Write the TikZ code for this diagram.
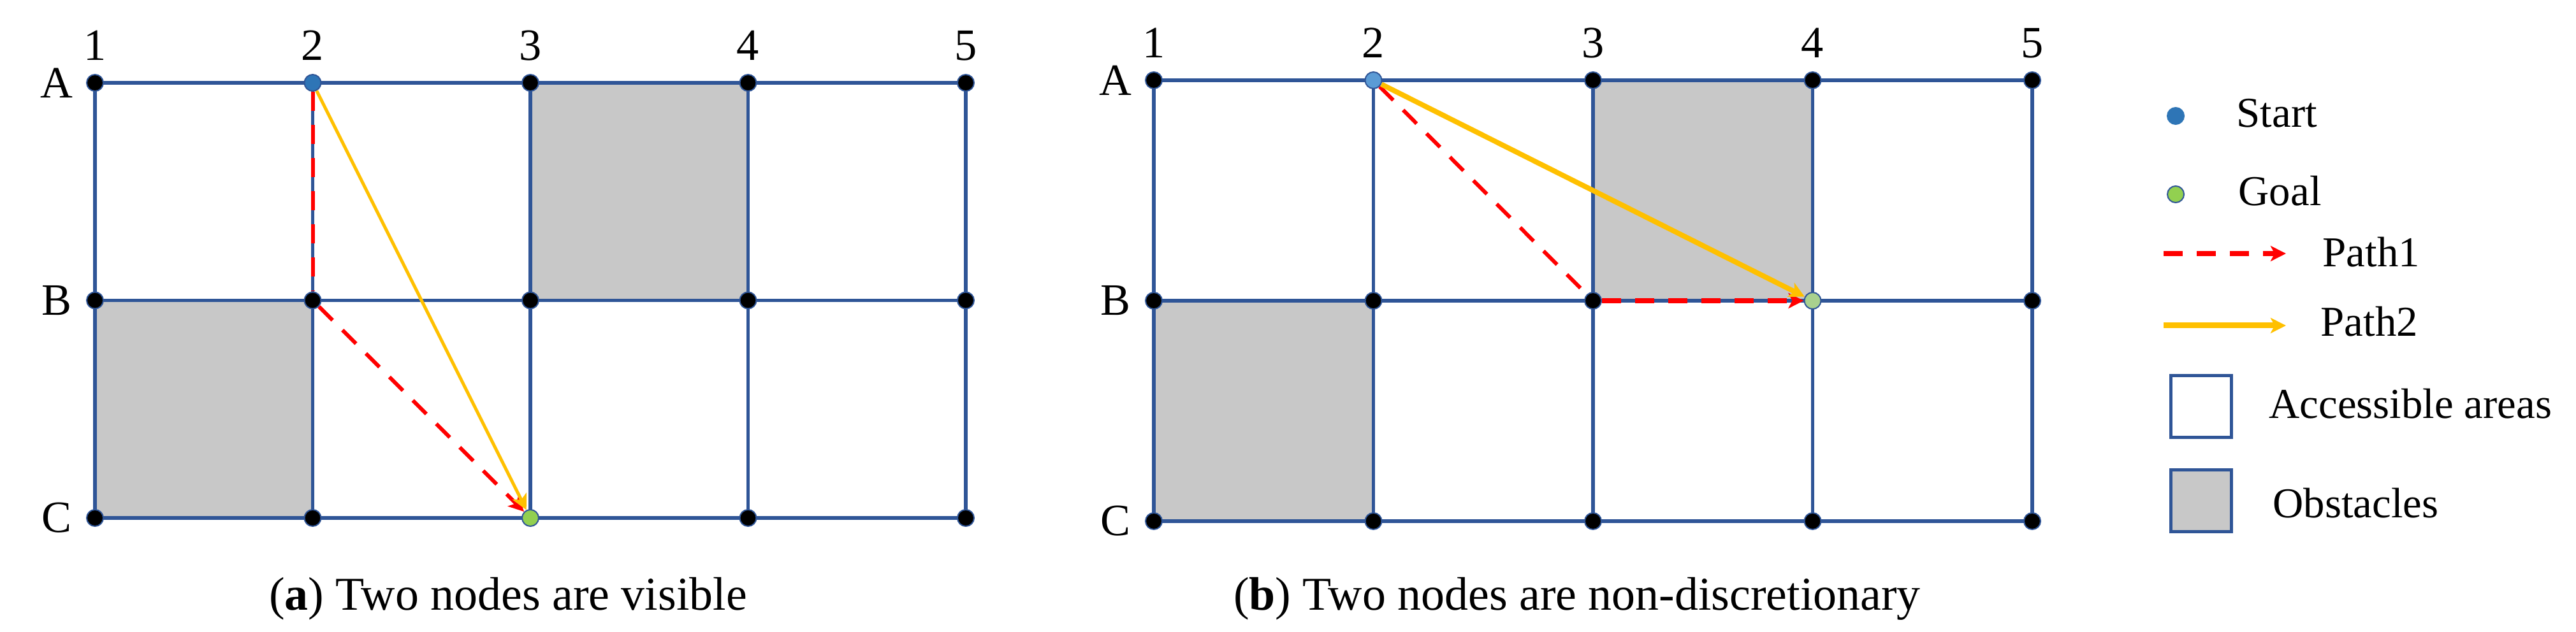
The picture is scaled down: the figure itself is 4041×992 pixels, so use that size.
\documentclass[tikz,border=0pt]{standalone}
\usepackage{fontspec}
\setmainfont{Liberation Serif}
\usetikzlibrary{arrows.meta,backgrounds}

\definecolor{gridblue}{HTML}{2F5597}
\definecolor{obstgray}{HTML}{C8C8C8}
\definecolor{startblue}{HTML}{2E75B6}
\definecolor{startlight}{HTML}{5B9BD5}
\definecolor{goalgreen}{HTML}{92D050}
\definecolor{goallight}{HTML}{A9D18E}
\definecolor{pathred}{HTML}{FF0000}
\definecolor{pathyellow}{HTML}{FFC000}

\tikzset{
  gridpt/.style={circle, fill=black, draw=gridblue, line width=0.02cm, inner sep=0pt, minimum size=0.26cm},
  startpt/.style={fill=startblue},
  goalpt/.style={fill=goalgreen},
  pt a-A2/.style={startpt}, pt a-C3/.style={goalpt},
  pt b-A2/.style={fill=startlight}, pt b-B4/.style={fill=goallight},
  gridline/.style={draw=gridblue, line width=0.055cm},
  obstacle/.style={fill=obstgray},
  path1/.style={draw=pathred, line width=0.06cm, dash pattern=on 0.3cm off 0.22cm},
  path2/.style={draw=pathyellow, line width=0.05cm},
  pathtip/.style={-{Stealth[length=0.24cm, width=0.24cm, inset=0.06cm]}},
  axislabel/.style={inner sep=0pt, font=\fontsize{20}{24}\selectfont},
  legtext/.style={inner sep=0pt, anchor=base west, font=\fontsize{19}{23}\selectfont},
  subcap/.style={inner sep=0pt, anchor=base, font=\fontsize{21}{25}\selectfont},
  legbox/.style={draw=gridblue, line width=0.05cm, minimum width=0.95cm, minimum height=0.97cm, inner sep=0pt}
}

\begin{document}
\begin{tikzpicture}[x=0.01cm, y=-0.01cm]
  \useasboundingbox (0,0) rectangle (4041,992);

  % Grid points and labels of both panels
  \foreach \p/\xo/\yo/\gx/\gy in {a/149/130/341.5/341.5, b/1810/126/344.5/346}{
    \foreach \cl in {1,...,5}
      \foreach \rw/\rn in {0/A,1/B,2/C}
        \node[gridpt, pt \p-\rn\cl/.try] (\p-\rn\cl) at ({\xo+(\cl-1)*\gx},{\yo+\rw*\gy}) {};
    \foreach \cl in {1,...,5}
      \node[axislabel, anchor=base] (\p-col\cl) at ({\xo+(\cl-1)*\gx},{\yo-35}) {\cl};
    \foreach \rw/\rn in {0/A,1/B,2/C}
      \node[axislabel] (\p-row\rn) at ({\xo-60},{\yo+\rw*\gy}) {\rn};
  }

  % Obstacles and grid lines
  \begin{scope}[on background layer]
    \foreach \p in {a,b}{
      \fill[obstacle] (\p-A3.center) rectangle (\p-B4.center);
      \fill[obstacle] (\p-B1.center) rectangle (\p-C2.center);
      \foreach \rn in {A,B,C}
        \draw[gridline] (\p-\rn1.center) -- (\p-\rn5.center);
      \foreach \cl in {1,...,5}
        \draw[gridline] (\p-A\cl.center) -- (\p-C\cl.center);
    }
  \end{scope}

  % Paths of panel (a)
  \draw[path1] (a-A2) -- (a-B2);
  \draw[path1, pathtip] (a-B2) -- (a-C3);
  \draw[path2, pathtip] (a-A2) -- (a-C3);

  % Paths of panel (b)
  \draw[path1] (b-A2) -- (b-B3);
  \draw[path1, pathtip, line width=0.08cm] (b-B3) -- (b-B4);
  \draw[path2, pathtip, line width=0.08cm] (b-A2) -- (b-B4);

  % Legend
  \node[gridpt, startpt, draw=startblue] (lg-start) at (3413,182) {};
  \node[legtext] (lg-start-txt) at (3508,200) {Start};
  \node[gridpt, goalpt] (lg-goal) at (3413,305) {};
  \node[legtext] (lg-goal-txt) at (3511,323) {Goal};
  \coordinate (lg-p1-from) at (3394,398);
  \coordinate (lg-p1-to) at (3586,398);
  \draw[path1, pathtip, line width=0.08cm] (lg-p1-from) -- (lg-p1-to);
  \node[legtext] (lg-p1-txt) at (3643,419) {Path1};
  \coordinate (lg-p2-from) at (3394,511);
  \coordinate (lg-p2-to) at (3586,511);
  \draw[path2, pathtip, line width=0.09cm] (lg-p2-from) -- (lg-p2-to);
  \node[legtext] (lg-p2-txt) at (3640,528) {Path2};
  \node[legbox] (lg-free) at (3453,638) {};
  \node[legtext] (lg-free-txt) at (3559,657) {Accessible areas};
  \node[legbox, fill=obstgray] (lg-obst) at (3453,786) {};
  \node[legtext] (lg-obst-txt) at (3565,813) {Obstacles};

  % Captions
  \node[subcap] (cap-a) at (797,958) {(\textbf{a}) Two nodes are visible};
  \node[subcap] (cap-b) at (2474,958) {(\textbf{b}) Two nodes are non-discretionary};
\end{tikzpicture}
\end{document}
